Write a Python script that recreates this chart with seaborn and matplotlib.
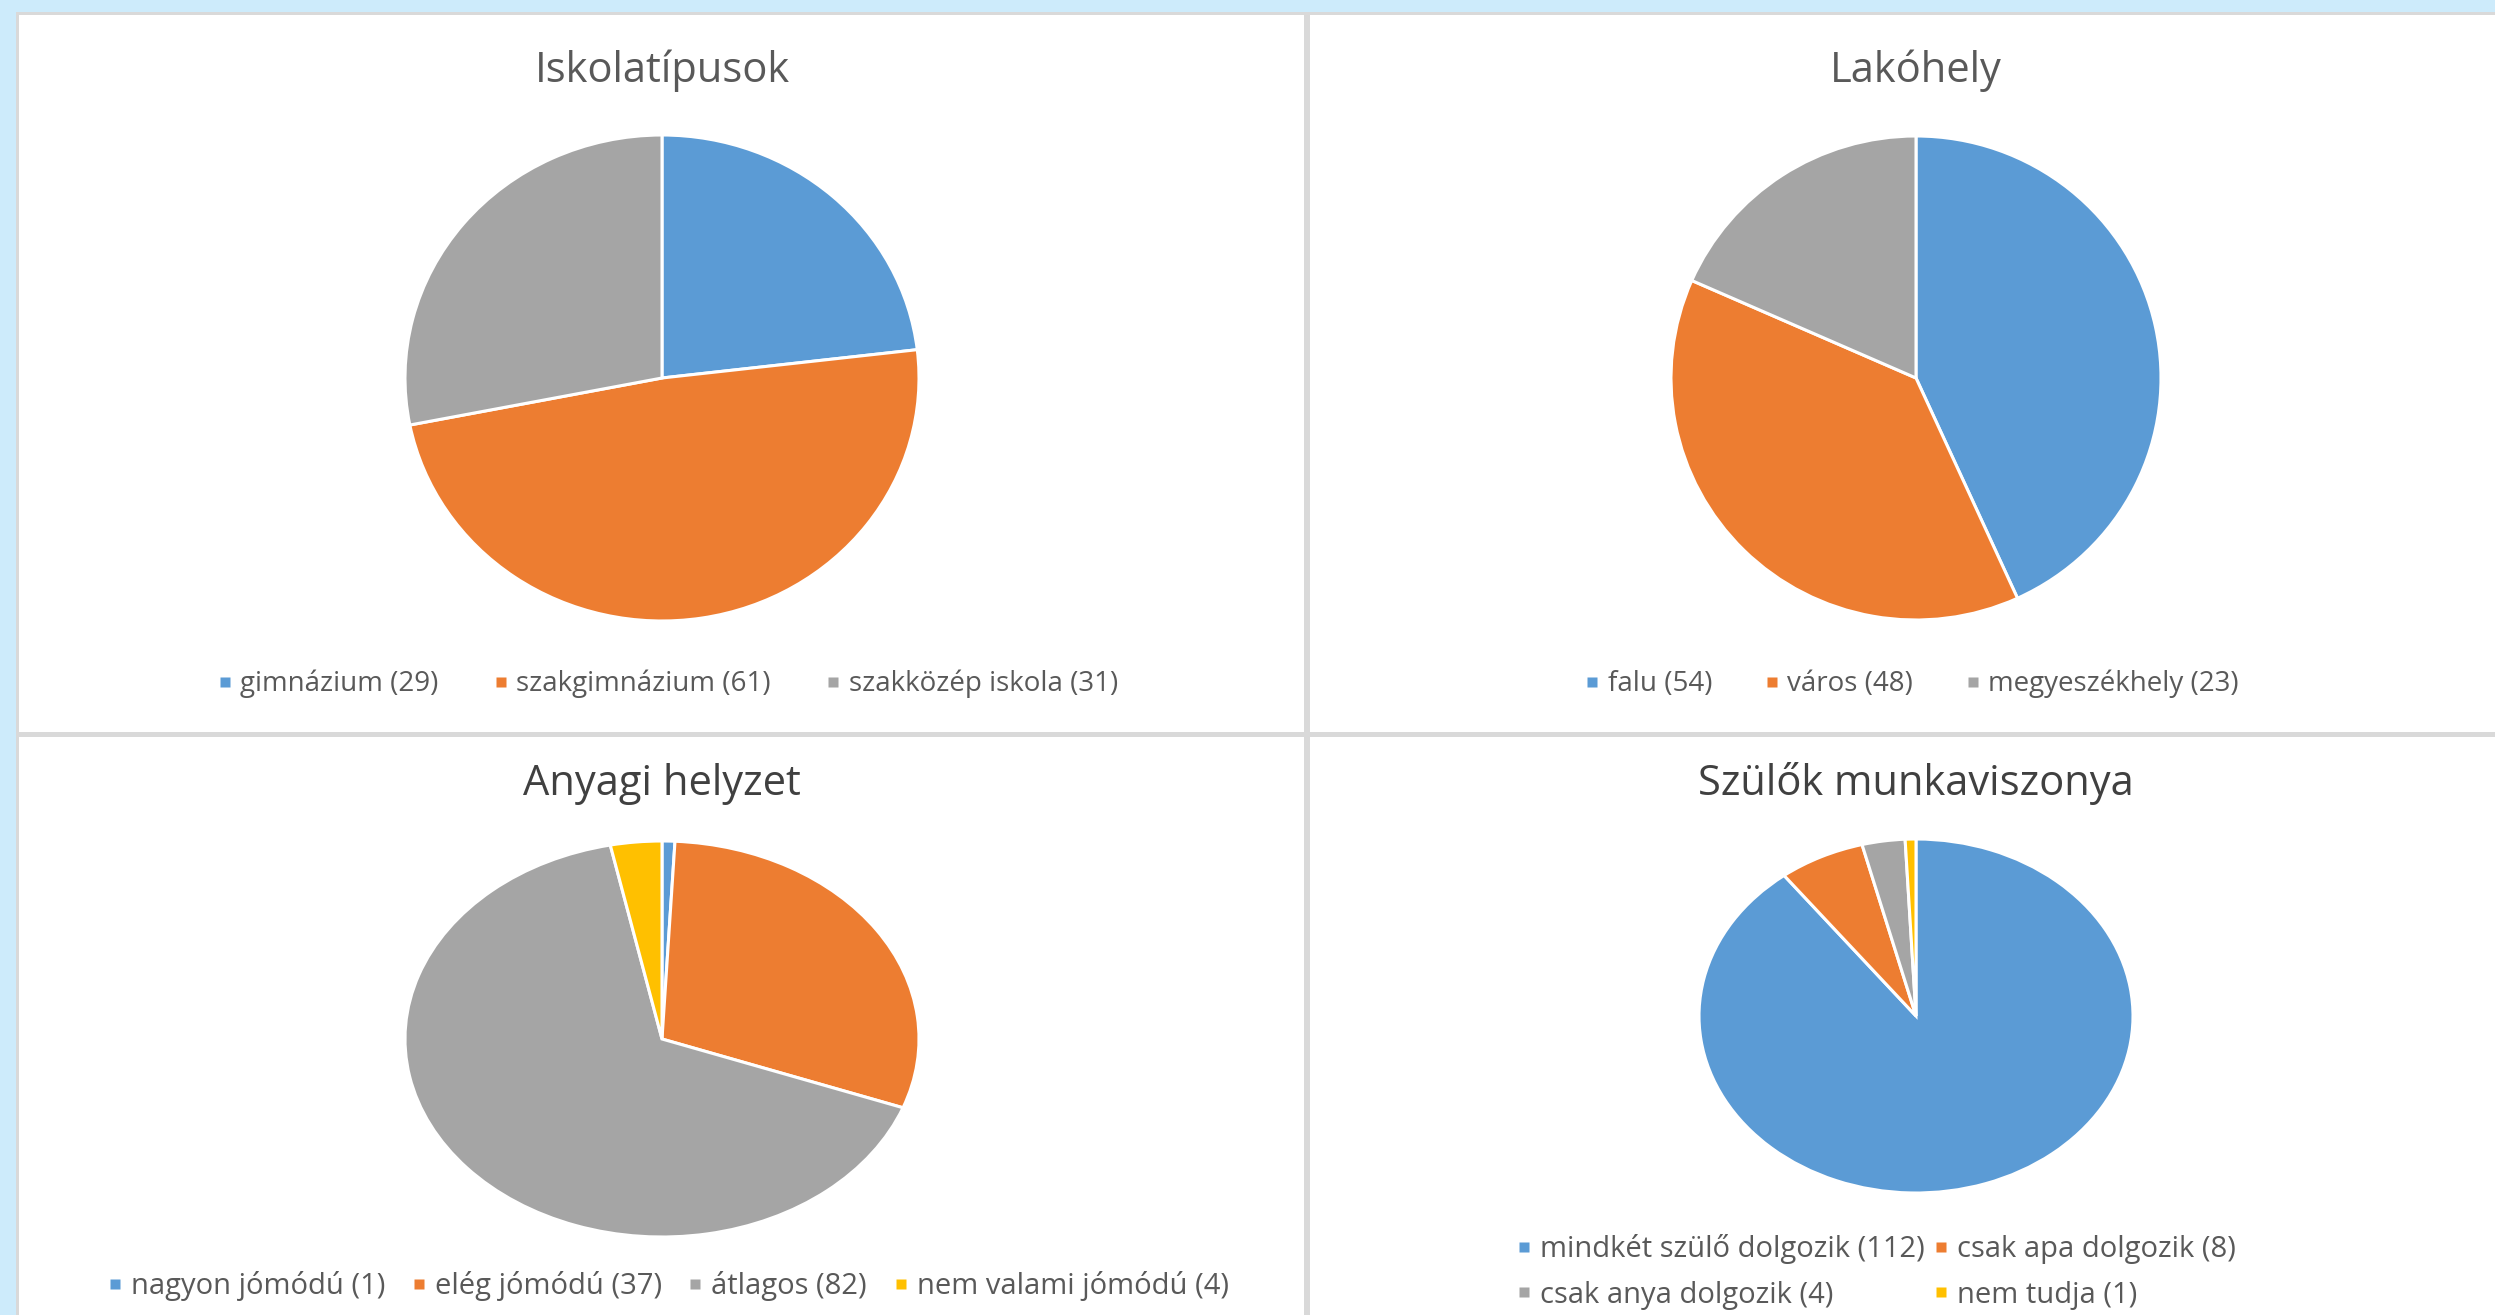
import matplotlib
matplotlib.use("Agg")
import matplotlib.pyplot as plt
from matplotlib.lines import Line2D
from matplotlib.patches import Rectangle
import seaborn as sns

# adatok
school_labels = ["gimnázium", "szakgimnázium", "szakközép iskola"]
school_counts = [29, 61, 31]
# a kördiagram szeletei a képen kicsit eltérnek a jelmagyarázat számaitól
school_slices = [28, 59, 34]

home_labels = ["falu", "város", "megyeszékhely"]
home_counts = [54, 48, 23]

wealth_labels = ["nagyon jómódú", "elég jómódú", "átlagos", "nem valami jómódú"]
wealth_counts = [1, 37, 82, 4]

job_labels = ["mindkét szülő dolgozik", "csak apa dolgozik",
              "csak anya dolgozik", "nem tudja"]
job_counts = [112, 8, 4, 1]

titles = ["Iskolatípusok", "Lakóhely", "Anyagi helyzet", "Szülők munkaviszonya"]

sns.set_theme(style="white")
plt.rcParams["font.family"] = ["Open Sans", "DejaVu Sans"]

palette = sns.color_palette(["#5B9BD5", "#ED7D31", "#A5A5A5", "#FFC000"])
TXT = "#595959"
W, H = 2495, 1315

fig = plt.figure(figsize=(W / 100, H / 100), dpi=100)
fig.patch.set_facecolor("#CDEBFB")


def fx(x):
    return x / W


def fy(y):
    return 1 - y / H


# háttér panelek (szürke keret + fehér lapok), a tengelyek mögött
fig.patches.append(Rectangle((fx(16), 0), 1, fy(12), transform=fig.transFigure,
                             facecolor="#D9D9D9", edgecolor="none", zorder=-2))
for x0, y0, x1, y1 in [(19, 15, 1304, 732), (1310, 15, W, 732),
                       (19, 737, 1304, H), (1310, 737, W, H)]:
    fig.patches.append(Rectangle((fx(x0), fy(y1)), fx(x1 - x0), (y1 - y0) / H,
                                 transform=fig.transFigure, facecolor="white",
                                 edgecolor="none", zorder=-1))


def pie_panel(slices, counts, labels, title, cx, cy, rx, ry, title_y, leg_y, leg_x,
              ncol, title_color=TXT, leg_size=21, colsp=1.9, order=None, labsp=0.3):
    ax = fig.add_axes([fx(cx - rx), fy(cy + ry), 2 * rx / W, 2 * ry / H])
    wedges, _ = ax.pie(slices, colors=palette[:len(slices)], startangle=90,
                       counterclock=False,
                       wedgeprops=dict(edgecolor="white", linewidth=2.2))
    for w in wedges:
        w.set_clip_on(False)
    ax.set_aspect("auto")
    ax.set_xlim(-1, 1)
    ax.set_ylim(-1, 1)
    ax.axis("off")
    fig.text(fx(cx), fy(title_y), title, ha="center", va="center",
             fontsize=30, color=title_color)
    handles = [Line2D([], [], marker="s", linestyle="none", markersize=7,
                      markerfacecolor=palette[i], markeredgecolor="none")
               for i in range(len(counts))]
    leg_labels = [f"{l} ({n})" for l, n in zip(labels, counts)]
    if order is not None:
        handles = [handles[i] for i in order]
        leg_labels = [leg_labels[i] for i in order]
    fig.legend(handles, leg_labels, loc="center", ncol=ncol,
               bbox_to_anchor=(fx(leg_x), fy(leg_y)), frameon=False,
               fontsize=leg_size, labelcolor=TXT, handlelength=0.5,
               handletextpad=0.3, columnspacing=colsp, borderpad=0,
               labelspacing=labsp)


pie_panel(school_slices, school_counts, school_labels, titles[0],
          662, 378, 257, 243, 71, 684, 668, 3, leg_size=20, colsp=2.0)
pie_panel(home_counts, home_counts, home_labels, titles[1],
          1916, 378, 245, 242, 71, 684, 1912, 3, leg_size=20, colsp=1.9)
pie_panel(wealth_counts, wealth_counts, wealth_labels, titles[2],
          662, 1039, 257, 198, 784, 1286, 668, 4, title_color="#404040", colsp=0.9)
pie_panel(job_counts, job_counts, job_labels, titles[3],
          1916, 1016, 217, 177, 784, 1272, 1876, 2, title_color="#404040",
          colsp=0.3, order=[0, 2, 1, 3], labsp=0.55)

fig.savefig("out.png", dpi=100, facecolor=fig.get_facecolor())
